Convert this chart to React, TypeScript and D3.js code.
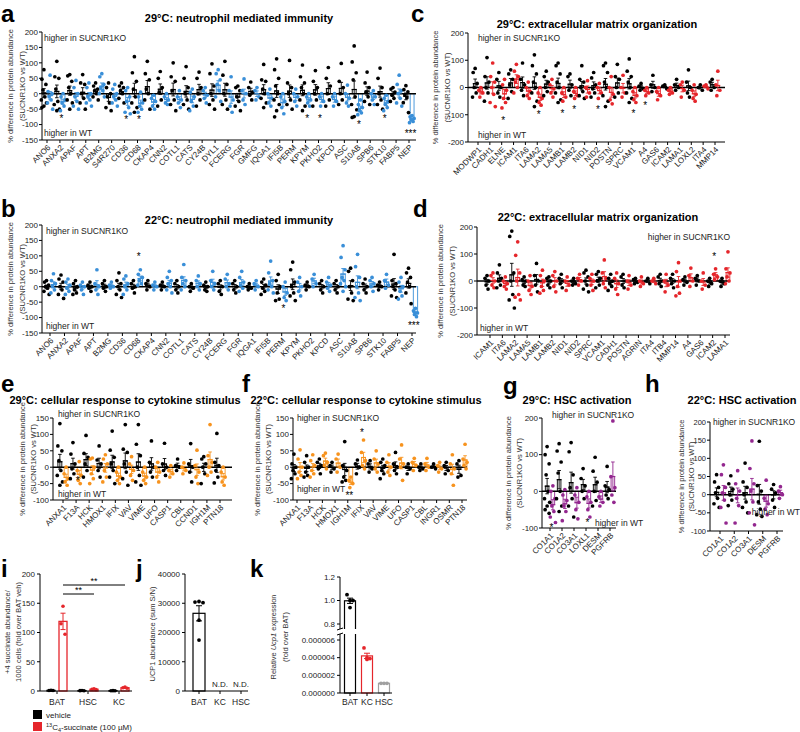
import React from "react";
import * as d3 from "d3";

const FONT = "'Liberation Sans', Arial, Helvetica, sans-serif";
const BLUE = "#3a8fd8";
const RED = "#e5262b";
const ORANGE = "#f7931e";
const PURPLE = "#93278f";

// ---------- Panel a: 29°C neutrophil mediated immunity ----------
const aCats = ["ANO6","ANXA2","APAF","APT","B2MG","S4R270","CD36","CD68","CKAP4","CNN2","COTL1","CATS","CY24B","DYL1","FCERG","FGR","GMFG","IQGA1","IFI5B","PERM","KPYM","PKHO2","KPCD","ASC","S10AB","SPB6","STK10","FABP5","NEP"];
const aBlack = [
  [78,47,30,12,-10,-20,-30,-40,-45],[105,55,50,15,-25,-35,-50,-55],[62,58,40,20,0,-20,-30,-50],[62,35,30,0,-15,-30,-50],
  [35,25,15,10,0,-10,-20],[35,20,0,-10,-30,-45,-55],[35,25,20,10,0,-15,-30],[120,68,40,15,-10,-30,-45,-60],
  [105,65,45,15,0,-20,-50],[72,50,20,5,-20,-40],[100,55,40,10,-20,-35,-55],[88,50,20,0,-20,-35,-50],
  [70,50,20,0,-20,-40],[97,65,25,0,-20,-35,-50],[105,60,30,0,-20,-35,-50],[25,20,10,-10,-25,-40,-55],
  [38,20,5,-5,-20],[95,45,40,15,0,-15,-30,-45],[113,78,50,25,0,-20,-35,-55,-75],[108,35,20,0,-20,-35,-50],
  [93,55,35,20,0,-20,-40,-55],[75,40,20,0,-20,-40],[85,50,25,0,-20,-40],[98,40,20,0,-20,-35],
  [155,103,68,45,-10,-35,-52,-74,-77],[70,35,20,5,-10,-25,-35],[83,50,20,0,-20,-35,-50],[20,15,5,-5,-15,-25],
  [26,13,6,-3,-13,-29,-61]
];
const aBlue = [
  [60,7,0,-10,-20,-30,-50],[0,-10,-20,-30,-40,-55],[43,20,0,-10,-25,-40,-50],[35,20,0,-10,-20,-30,-40],
  [65,55,30,20,10,0,-10],[30,15,0,-10,-20,-30,-40],[20,10,-10,-25,-45,-60,-65],[5,-10,-30,-40,-50,-60],
  [-5,-15,-25,-40,-50],[0,-10,-20,-30,-35],[10,-10,-20,-30,-45],[15,5,-10,-25,-40,-55],
  [20,10,-5,-15,-30],[78,65,45,30,10,-10,-25],[55,10,-20,-40,-60],[48,10,0,-20,-35],
  [20,10,-10,-20],[15,0,-15,-30,-40],[0,-10,-25,-45,-65],[15,0,-10,-25,-40],
  [0,-10,-20,-30,-40],[0,-10,-25,-40],[0,-10,-25,-40],[28,0,-15,-30,-40],
  [-20,-35,-45,-55,-62,-68],[10,0,-10,-20,-35],[-5,-15,-25,-35,-45,-55],[60,30,10,0,-15,-30,-40],
  [-71,-75,-80,-85,-90,-94]
];
const aStars: [string, number, string][] = [["ANXA2",-78,"*"],["CD36",-82,"*"],["CD68",-82,"*"],["KPYM",-78,"*"],["PKHO2",-78,"*"],["S10AB",-97,"*"],["STK10",-78,"*"],["NEP",-128,"***"]];

// ---------- Panel b: 22°C neutrophil mediated immunity ----------
const bCats = ["ANO6","ANXA2","APAF","APT","B2MG","CD36","CD68","CKAP4","CNN2","COTL1","CATS","CY24B","FCERG","FGR","IQGA1","IFI5B","PERM","KPYM","PKHO2","KPCD","ASC","S10AB","SPB6","STK10","FABP5","NEP"];
const bBlack = [
  [20,15,5,0,-5,-15,-25],[38,25,15,0,-10,-25,-38],[20,10,0,-10,-20,-25],[15,5,0,-5,-15],[20,10,0,-5,-15],
  [45,20,10,0,-10,-25,-35],[20,10,0,-5,-20],[20,10,0,-10],[15,5,0,-10],[20,10,0,-10,-20],[10,0,-5,-15],
  [15,5,0,-10,-15],[20,10,0,-15,-25],[20,10,0,-10,-20],[10,0,-5,-10],[25,15,5,-5,-15,-25],[40,20,0,-20,-40,-45],
  [80,55,15,0,-20,-30,-45],[15,5,0,-10],[20,10,0,-10,-20],[20,10,0,-10,-20],[60,50,20,0,-20,-40,-45],
  [25,10,0,-10,-20],[15,5,0,-10],[105,20,10,0,-10,-30,-35],[60,45,30,15,0,-20,-55]
];
const bBlue = [
  [42,20,10,0,-10,-20],[25,15,5,-5,-15,-25],[15,5,0,-10,-25],[55,10,0,-10,-25],[15,5,0,-5],
  [35,25,10,0,-10,-25],[55,40,30,20,10,5],[15,5,0,-10],[50,30,20,10,0,-10,-20],[72,30,20,10,0,-10],[35,20,10,0,-10],
  [50,20,10,0,-10],[40,25,10,0,-10],[50,30,15,5,-5,-15],[20,10,0,-10],[83,45,20,10,0,-10,-20],[15,0,-20,-35,-45],
  [30,15,0,-15,-30],[40,25,10,0],[30,15,5,-5,-15],[133,95,55,30,20,10,0,-15],[105,65,30,0,-20,-35,-45],
  [30,20,10,0,-15],[40,20,5,-5],[30,15,0,-15,-30,-40],[-70,-78,-85,-90,-97]
];
const bStars: [string, number, string][] = [["CD68",98,"*"],["PERM",-68,"*"],["NEP",-125,"***"]];

// ---------- Panel c: 29°C extracellular matrix organization ----------
const cCats = ["MODWP1","CADH1","ELNE","ICAM1","ITA6","LAMA2","LAMA5","LAMB1","LAMB2","NID1","NID2","POSTN","SPRC","VCAM1","A4","GAS6","ICAM2","LAMA1","LOXL2","ITA4","MMP14"];
const cBlack = [
  [70,55,15,0,-20,-35],[110,40,20,0,-20,-50],[55,30,0,-20,-35],[65,50,30,10,-15,-40],[90,30,10,-10,-30],
  [120,80,50,20,0,-20,-50,-70],[60,40,20,0,-15,-30],[90,80,50,20,0,-20,-45,-55],[50,40,10,-10,-30],
  [80,30,20,0,-15,-30,-40],[55,35,10,-5,-20,-35],[90,80,55,20,0,-30,-50,-70],[85,40,30,0,-20,-35],
  [105,60,40,20,0,-20,-40,-55],[15,5,-5,-10],[45,10,0,-15],[10,5,-5],[30,10,0,-10],[65,20,0,-20,-35],
  [10,0,-10],[30,20,0,-10]
];
const cRed = [
  [0,-10,-20,-35],[90,40,20,0,-25,-55,-70],[30,10,-10,-40,-55,-75],[85,60,40,20,0,-20],[20,0,-15,-30,-40],
  [0,-20,-40,-55,-65],[30,10,-5,-20,-35],[0,-20,-35,-50],[0,-15,-30,-40],
  [25,0,-20,-35],[15,0,-20,-40],[40,0,-25,-45,-60],[45,0,-20,-35],
  [0,-15,-30,-45,-55],[0,-10,-20,-30],[0,-15,-30,-45],[0,-10,-20,-25],[20,10,-10,-35],[10,-10,-25,-40,-50],
  [10,5,-5],[60,10,-10,-30]
];
const cStars: [string, number, string][] = [["ELNE",-118,"*"],["LAMA2",-98,"*"],["LAMB1",-92,"*"],["LAMB2",-80,"*"],["NID2",-80,"*"],["VCAM1",-92,"*"],["A4",-66,"*"]];

// ---------- Panel d: 22°C extracellular matrix organization ----------
const dCats = ["ICAM1","ITA6","LAMA2","LAMA5","LAMB1","LAMB2","NID1","NID2","SPRC","VCAM1","CADH1","POSTN","AGRIN","ITA4","ITB4","MMP14","A4","GAS6","ICAM2","LAMA1"];
const dBlack = [
  [20,10,0,-15,-30],[60,30,10,0,-15,-25],[185,165,30,0,-50,-70,-100],[15,5,0,-15,-20],[65,20,0,-15,-40],
  [15,10,0,-15,-25],[25,10,0,-10,-25],[10,0,-10,-15],[40,30,15,0,-15,-30,-40],[35,25,10,0,-15,-25],
  [25,10,0,-10,-20,-35],[25,15,0,-15,-25],[10,5,-5,-10],[10,0,-10],[25,15,0,-10,-20],[25,10,0,-10,-25],
  [15,5,-5,-15],[20,10,0,-15],[10,0,-10,-20],[10,0,-10,-20]
];
const dRed = [
  [30,20,0,-15,-25],[15,0,-10,-20,-30],[145,95,30,0,-50,-60,-70],[20,0,-20,-35,-50],[40,20,0,-20,-35,-45],
  [35,20,0,-20,-40],[15,0,-15,-35],[25,10,0,-15],[25,10,0,-15,-35],[78,30,10,-10,-25],
  [30,10,-10,-30,-50],[20,0,-15,-30],[15,0,-10,-20],[10,0,-10],[25,0,-15,-40],[68,35,0,-20,-45,-55],
  [48,20,0,-20],[30,0,-15,-30],[45,25,15,5],[108,45,30,15,0,-10]
];
const dStars: [string, number, string][] = [["ICAM2",92,"*"]];

// ---------- Panel e: 29°C cellular response to cytokine stimulus ----------
const eCats = ["ANXA1","F13A","HCK","HMOX1","IFIX","VAV","VIME","UFO","CASP1","CBL","CCND1","IGH1M","PTN18"];
const eBlack = [
  [133,65,50,20,-10,-25,-45,-55],[75,40,10,-5,-20,-35],[97,42,30,10,-10,-30],[65,22,10,-10,-30],
  [110,52,30,10,-10,-30,-50],[130,55,45,10,-15,-35,-55],[130,70,35,0,-25,-45,-55],[80,15,0,-15,-30],
  [73,10,0,-10,-25],[25,5,0,-10],[72,10,0,-15,-45],[32,25,10,0,-20,-50],[103,15,5,-10,-30,-48]
];
const eOrange = [
  [0,-20,-35,-45,-55],[17,-10,-25,-40,-50],[28,25,0,-20,-35,-50],[38,25,10,-10,-30,-45],
  [0,-15,-30,-40,-50],[32,10,-10,-25,-40],[0,-15,-30,-40,-50],[15,0,-15,-30,-45],
  [5,-10,-20,-30],[13,0,-10,-20],[52,5,-15,-30,-50],[130,35,15,0,-15,-25],[0,-15,-30,-45,-55]
];
const eStars: [string, number, string][] = [["F13A",-40,"*"]];

// ---------- Panel f: 22°C cellular response to cytokine stimulus ----------
const fCats = ["ANXA1","F13A","HCK","HMOX1","IGH1M","IFIX","VAV","VIME","UFO","CASP1","CBL","INGR1","OSMR","PTN18"];
const fBlack = [
  [40,10,0,-10,-20,-35],[35,15,0,-15,-25,-30],[25,15,5,-5,-20],[15,5,-5,-15],[78,5,-10,-30,-40,-45],
  [22,10,0,-20],[20,10,-5,-15],[25,15,5,-10,-20,-35],[45,10,0,-10,-20],[10,0,-5,-20],[10,0,-5,-10],
  [10,0,-5],[15,5,-10,-20],[20,10,-25,-30]
];
const fOrange = [
  [53,25,0,-15,-25,-35],[38,20,5,-10,-20,-30],[43,35,15,5,-5],[40,25,0,-15],[-30,-40,-50,-62],
  [83,45,20,5,-5],[50,25,10,-5,-15],[38,15,0,-15,-25],[68,25,10,0,-40],[27,15,5,-10],[27,10,0,-10],
  [15,5,-5,-15],[38,10,-5,-20,-55],[70,25,15,5,-5]
];
const fStars: [string, number, string][] = [["IFIX",106,"*"],["IGH1M",-84,"**"]];

// ---------- Panel g: 29°C HSC activation ----------
const gCats = ["CO1A1","CO1A2","CO3A1","LOXL1","DESM","PGFRB"];
const gBlack = [
  [122,100,75,45,0,-20,-30,-40,-50,-60],[130,110,80,50,0,-20,-40,-55],[133,108,45,10,-20,-40,-70],
  [62,35,15,0,-20],[93,55,25,0,-25,-40],[68,15,5,-10,-20]
];
const gPurple = [
  [15,0,-20,-40,-55,-70,-85],[5,-10,-25,-40,-55,-80],[10,-10,-30,-50,-75],
  [0,-15,-30,-50,-70],[0,-15,-30,-40],[192,40,10,-10,-30]
];
const gStars: [string, number, string][] = [["CO1A1",-97,"*"],["LOXL1",-84,"*"]];

// ---------- Panel h: 22°C HSC activation ----------
const hCats = ["CO1A1","CO1A2","CO3A1","DESM","PGFRB"];
const hBlack = [
  [55,35,20,5,-10,-25,-35],[52,30,15,0,-15,-30],[87,35,20,0,-20,-35,-50],[147,25,10,-20,-40,-55,-60],[28,15,5,-15,-35]
];
const hPurple = [
  [82,55,20,5,-15,-35,-78],[66,30,10,-10,-30,-78],[148,72,30,10,-20,-50,-83],[40,-10,-25,-40,-55],[22,10,0,-10]
];
const hStars: [string, number, string][] = [];

// ---------- Panel i ----------
const iGroups = ["BAT","HSC","KC"];
const iVehicle = [[1.2,0.9,0.8],[0.8,0.6,0.5],[0.6,0.5,0.4]];
const iSuccinate = [[145,115,97],[3.6,3.0,2.4],[6.6,5.6,4.6]];
const iTicks = [0,50,100,150,200];
const iSig: [string, string][] = [["BAT","HSC"],["BAT","KC"]];

// ---------- Panel j ----------
const jGroups = ["BAT","KC","HSC"];
const jBAT = [30400,30600,30200,24200,17400];
const jTicks = [0,10000,20000,30000,40000];

// ---------- Panel k ----------
const kGroups = ["BAT","KC","HSC"];
const kValues = [[1.05,1.0,1.0,0.94],[5.1e-6,4.0e-6,3.9e-6,3.8e-6],[1.1e-6,1.1e-6,1.1e-6]];
const kUpperTicks = [0.8,1.0,1.2];
const kLowerTicks = [0,2e-6,4e-6,6e-6];

const JIT = [0,-2,2,-1,1,-2.6,2.6];
const avg = (a: number[]) => d3.mean(a) as number;
const sem = (a: number[]) => (a.length > 1 ? (d3.deviation(a) as number) / Math.sqrt(a.length) : 0);

type Txt = { x: number; y: number; anchor?: string };
type Cfg = {
  letter: string; lx: number; ly: number; title: string; tx: number; ty: number;
  x0: number; x1: number; c0: number; c1: number; yTop: number; yBot: number;
  dom: [number, number]; ticks: number[]; cats: string[]; black: number[][]; col: number[][];
  color: string; stars: [string, number, string][]; hiKO: Txt; hiWT: Txt; ylx: [number, number];
  tickFs?: number;
};

function StripPanel({ p }: { p: Cfg }) {
  const y = d3.scaleLinear().domain(p.dom).range([p.yBot, p.yTop]);
  const x = d3.scalePoint<string>().domain(p.cats).range([p.c0, p.c1]);
  const step = x.step();
  const off = step * 0.24;
  const bw = Math.min(step * 0.3, 5);
  const y0 = y(0);
  const groups: { cx: number; vals: number[]; color: string }[] = [];
  p.cats.forEach((c, i) => {
    groups.push({ cx: (x(c) as number) - off, vals: p.black[i], color: "#000" });
    groups.push({ cx: (x(c) as number) + off, vals: p.col[i], color: p.color });
  });
  const ymid = (p.yTop + p.yBot) / 2;
  const tfs = p.tickFs || 8;
  return (
    <g fontFamily={FONT}>
      <text x={p.lx} y={p.ly} fontSize={24} fontWeight="bold">{p.letter}</text>
      <text x={p.tx} y={p.ty} fontSize={11} fontWeight="bold" textAnchor="middle">{p.title}</text>
      <text transform={`translate(${p.ylx[0]},${ymid}) rotate(-90)`} fontSize={7.5} textAnchor="middle" fill="#333">% difference in protein abundance</text>
      <text transform={`translate(${p.ylx[1]},${ymid}) rotate(-90)`} fontSize={7.5} textAnchor="middle" fill="#333">(SUCNR1KO vs WT)</text>
      {groups.map((g, k) => {
        const m = avg(g.vals);
        return <rect key={"b" + k} x={g.cx - bw / 2} y={Math.min(y0, y(m))} width={bw} height={Math.abs(y(m) - y0)} fill="#fff" stroke={g.color} strokeWidth={0.9} />;
      })}
      <line x1={p.x0} x2={p.x1} y1={y0} y2={y0} stroke="#000" strokeWidth={1.5} />
      {groups.map((g, k) => (
        <g key={"d" + k}>
          {g.vals.map((v, j) => <circle key={j} cx={g.cx + JIT[j % JIT.length]} cy={y(v)} r={1.85} fill={g.color} />)}
        </g>
      ))}
      {groups.map((g, k) => {
        const m = avg(g.vals), e = sem(g.vals);
        return (
          <g key={"e" + k} stroke={g.color} strokeWidth={0.9}>
            <line x1={g.cx} x2={g.cx} y1={y(m - e)} y2={y(m + e)} />
            <line x1={g.cx - 1.8} x2={g.cx + 1.8} y1={y(m - e)} y2={y(m - e)} />
            <line x1={g.cx - 1.8} x2={g.cx + 1.8} y1={y(m + e)} y2={y(m + e)} />
            <line x1={g.cx - bw / 2 - 0.6} x2={g.cx + bw / 2 + 0.6} y1={y(m)} y2={y(m)} strokeWidth={1.2} />
          </g>
        );
      })}
      {p.stars.map(([c, v, t], k) => (
        <text key={"s" + k} x={(x(c) as number) + off * 0.5} y={y(v) + 4} fontSize={10} textAnchor="middle">{t}</text>
      ))}
      <line x1={p.x0} x2={p.x0} y1={p.yTop} y2={p.yBot} stroke="#000" strokeWidth={1} />
      <line x1={p.x0} x2={p.x1} y1={p.yBot} y2={p.yBot} stroke="#000" strokeWidth={1} />
      {p.ticks.map((t) => (
        <g key={"t" + t}>
          <line x1={p.x0 - 3} x2={p.x0} y1={y(t)} y2={y(t)} stroke="#000" />
          <text x={p.x0 - 4} y={y(t)} dy="0.35em" fontSize={tfs} textAnchor="end" fill="#222">{t}</text>
        </g>
      ))}
      {p.cats.map((c) => (
        <g key={"c" + c}>
          <line x1={x(c)} x2={x(c)} y1={p.yBot} y2={p.yBot + 3} stroke="#000" />
          <text transform={`translate(${(x(c) as number) + 2},${p.yBot + 6}) rotate(-45)`} fontSize={8} textAnchor="end" dy="0.35em" fill="#222">{c}</text>
        </g>
      ))}
      <text x={p.hiKO.x} y={p.hiKO.y} fontSize={8.5} textAnchor={p.hiKO.anchor || "start"} fill="#222">higher in SUCNR1KO</text>
      <text x={p.hiWT.x} y={p.hiWT.y} fontSize={8.5} textAnchor={p.hiWT.anchor || "start"} fill="#222">higher in WT</text>
    </g>
  );
}

const tr = (a: number, b: number, s: number) => d3.range(a, b + 1, s);

const panels: Cfg[] = [
  { letter: "a", lx: 1, ly: 22, title: "29°C: neutrophil mediated immunity", tx: 239, ty: 22, x0: 42, x1: 416, c0: 47, c1: 409, yTop: 32, yBot: 140, dom: [-150, 200], ticks: tr(-150, 200, 50), cats: aCats, black: aBlack, col: aBlue, color: BLUE, stars: aStars, hiKO: { x: 44, y: 41 }, hiWT: { x: 44, y: 136 }, ylx: [13, 25] },
  { letter: "b", lx: 1, ly: 217, title: "22°C: neutrophil mediated immunity", tx: 239, ty: 224, x0: 42, x1: 416, c0: 50, c1: 412, yTop: 225, yBot: 333, dom: [-150, 200], ticks: tr(-150, 200, 50), cats: bCats, black: bBlack, col: bBlue, color: BLUE, stars: bStars, hiKO: { x: 46, y: 234 }, hiWT: { x: 46, y: 329 }, ylx: [13, 25] },
  { letter: "c", lx: 411, ly: 22, title: "29°C: extracellular matrix organization", tx: 597, ty: 28, x0: 468, x1: 725, c0: 478, c1: 715, yTop: 33, yBot: 142, dom: [-200, 200], ticks: tr(-200, 200, 100), cats: cCats, black: cBlack, col: cRed, color: RED, stars: cStars, hiKO: { x: 478, y: 41 }, hiWT: { x: 478, y: 138 }, ylx: [438, 450] },
  { letter: "d", lx: 413, ly: 217, title: "22°C: extracellular matrix organization", tx: 598, ty: 221, x0: 477, x1: 730, c0: 490, c1: 725, yTop: 227, yBot: 335, dom: [-200, 200], ticks: tr(-200, 200, 100), cats: dCats, black: dBlack, col: dRed, color: RED, stars: dStars, hiKO: { x: 730, y: 240, anchor: "end" }, hiWT: { x: 480, y: 331 }, ylx: [443, 455] },
  { letter: "e", lx: 1, ly: 392, title: "29°C: cellular response to cytokine stimulus", tx: 125, ty: 404, x0: 53, x1: 232, c0: 63, c1: 220, yTop: 418, yBot: 500, dom: [-100, 150], ticks: tr(-100, 150, 50), cats: eCats, black: eBlack, col: eOrange, color: ORANGE, stars: eStars, hiKO: { x: 58, y: 417 }, hiWT: { x: 58, y: 497 }, ylx: [25, 36] },
  { letter: "f", lx: 242, ly: 392, title: "22°C: cellular response to cytokine stimulus", tx: 366, ty: 404, x0: 293, x1: 467, c0: 297, c1: 462, yTop: 418, yBot: 500, dom: [-100, 150], ticks: tr(-100, 150, 50), cats: fCats, black: fBlack, col: fOrange, color: ORANGE, stars: fStars, hiKO: { x: 297, y: 421 }, hiWT: { x: 297, y: 492 }, ylx: [260, 271] },
  { letter: "g", lx: 503, ly: 394, title: "29°C: HSC activation", tx: 577, ty: 404, x0: 542, x1: 616, c0: 550, c1: 610, yTop: 418, yBot: 528, dom: [-100, 200], ticks: tr(-100, 200, 100), cats: gCats, black: gBlack, col: gPurple, color: PURPLE, stars: gStars, hiKO: { x: 552, y: 418 }, hiWT: { x: 595, y: 526 }, ylx: [511, 522] },
  { letter: "h", lx: 645, ly: 392, title: "22°C: HSC activation", tx: 742, ty: 404, x0: 710, x1: 783, c0: 720, c1: 777, yTop: 422, yBot: 531, dom: [-100, 200], ticks: tr(-100, 200, 50), cats: hCats, black: hBlack, col: hPurple, color: PURPLE, stars: hStars, hiKO: { x: 713, y: 425 }, hiWT: { x: 800, y: 515, anchor: "end" }, ylx: [684, 694], tickFs: 7.5 },
];

function PanelI() {
  const y = d3.scaleLinear().domain([0, 200]).range([691, 574]);
  const x = d3.scalePoint<string>().domain(iGroups).range([57, 119]);
  const bw = 8;
  const x0 = 40, x1 = 132, yB = 691;
  const sigY = [594, 585];
  return (
    <g fontFamily={FONT}>
      <text x={1} y={577} fontSize={24} fontWeight="bold">i</text>
      <text transform="translate(10,632) rotate(-90)" fontSize={7.5} textAnchor="middle" fill="#333">+4 succinate abundance/</text>
      <text transform="translate(21,632) rotate(-90)" fontSize={7.5} textAnchor="middle" fill="#333">1000 cells (fold over BAT veh)</text>
      {iGroups.map((g, i) => {
        const cx = x(g) as number;
        const sets: [number[], string, number][] = [[iVehicle[i], "#000", cx - 6], [iSuccinate[i], RED, cx + 6]];
        return (
          <g key={g}>
            {sets.map(([vals, col, bx], k) => {
              const m = avg(vals), e = sem(vals);
              return (
                <g key={k}>
                  <rect x={bx - bw / 2} y={y(m)} width={bw} height={yB - y(m)} fill={k === 0 ? "#000" : "#fff"} stroke={col} strokeWidth={1.3} />
                  {vals.map((v, j) => <circle key={j} cx={bx + JIT[j % 3]} cy={y(v)} r={1.8} fill={col} />)}
                  <g stroke={col} strokeWidth={1}>
                    <line x1={bx} x2={bx} y1={y(m - e)} y2={y(m + e)} />
                    <line x1={bx - 2.5} x2={bx + 2.5} y1={y(m + e)} y2={y(m + e)} />
                    <line x1={bx - 2.5} x2={bx + 2.5} y1={y(m - e)} y2={y(m - e)} />
                  </g>
                </g>
              );
            })}
            <line x1={cx} x2={cx} y1={yB} y2={yB + 3} stroke="#000" />
            <text x={cx} y={705} fontSize={8.5} textAnchor="middle" fill="#222">{g}</text>
          </g>
        );
      })}
      {iSig.map(([a, b], k) => {
        const xa = (x(a) as number) + 6, xb = (x(b) as number) + 6;
        return (
          <g key={"sig" + k}>
            <line x1={xa} x2={xb} y1={sigY[k]} y2={sigY[k]} stroke="#000" strokeWidth={1} />
            <text x={(xa + xb) / 2} y={sigY[k] - 1} fontSize={9} textAnchor="middle">**</text>
          </g>
        );
      })}
      <line x1={x0} x2={x0} y1={574} y2={yB} stroke="#000" />
      <line x1={x0} x2={x1} y1={yB} y2={yB} stroke="#000" />
      {iTicks.map((t) => (
        <g key={t}>
          <line x1={x0 - 3} x2={x0} y1={y(t)} y2={y(t)} stroke="#000" />
          <text x={x0 - 5} y={y(t)} dy="0.35em" fontSize={8} textAnchor="end" fill="#222">{t}</text>
        </g>
      ))}
      <rect x={33} y={710} width={9} height={9} fill="#000" />
      <text x={46} y={718} fontSize={8} fill="#222">vehicle</text>
      <rect x={33} y={722} width={9} height={9} fill={RED} />
      <text x={46} y={730} fontSize={8} fill="#222"><tspan fontSize={5.5} dy={-3}>13</tspan><tspan dy={3}>C</tspan><tspan fontSize={5.5} dy={2}>4</tspan><tspan dy={-2}>-succinate (100 µM)</tspan></text>
    </g>
  );
}

function PanelJ() {
  const y = d3.scaleLinear().domain([0, 40000]).range([691, 574]);
  const x = d3.scalePoint<string>().domain(jGroups).range([199, 241]);
  const x0 = 185, x1 = 248, yB = 691;
  const cx = x("BAT") as number;
  const m = avg(jBAT), e = sem(jBAT);
  const jx = [-4, 0, 4, 0, 0];
  return (
    <g fontFamily={FONT}>
      <text x={136} y={577} fontSize={24} fontWeight="bold">j</text>
      <text transform="translate(155,634) rotate(-90)" fontSize={7.5} textAnchor="middle" fill="#333">UCP1 abundance (sum S/N)</text>
      <rect x={cx - 6} y={y(m)} width={12} height={yB - y(m)} fill="#fff" stroke="#000" strokeWidth={1.2} />
      {jBAT.map((v, j) => <circle key={j} cx={cx + jx[j]} cy={y(v)} r={1.9} fill="#000" />)}
      <g stroke="#000">
        <line x1={cx} x2={cx} y1={y(m - e)} y2={y(m + e)} />
        <line x1={cx - 3} x2={cx + 3} y1={y(m + e)} y2={y(m + e)} />
        <line x1={cx - 3} x2={cx + 3} y1={y(m - e)} y2={y(m - e)} />
      </g>
      {jGroups.slice(1).map((g) => (
        <text key={g} x={x(g) as number} y={687} fontSize={8} textAnchor="middle" fill="#222">N.D.</text>
      ))}
      <line x1={x0} x2={x0} y1={574} y2={yB} stroke="#000" />
      <line x1={x0} x2={x1} y1={yB} y2={yB} stroke="#000" />
      {jTicks.map((t) => (
        <g key={t}>
          <line x1={x0 - 3} x2={x0} y1={y(t)} y2={y(t)} stroke="#000" />
          <text x={x0 - 5} y={y(t)} dy="0.35em" fontSize={8} textAnchor="end" fill="#222">{t}</text>
        </g>
      ))}
      {jGroups.map((g) => (
        <g key={"l" + g}>
          <line x1={x(g)} x2={x(g)} y1={yB} y2={yB + 3} stroke="#000" />
          <text x={x(g) as number} y={705} fontSize={8.5} textAnchor="middle" fill="#222">{g}</text>
        </g>
      ))}
    </g>
  );
}

function PanelK() {
  const yU = d3.scaleLinear().domain([0.8, 1.2]).range([624, 577]);
  const yL = d3.scaleLinear().domain([0, 6e-6]).range([693, 640]);
  const yk = (v: number) => (v > 0.5 ? yU(v) : yL(v));
  const x = d3.scalePoint<string>().domain(kGroups).range([350, 384]);
  const cols = ["#000", RED, "#a0a0a0"];
  const x0 = 340, x1 = 392, yB = 693;
  const f6 = d3.format(".6f");
  return (
    <g fontFamily={FONT}>
      <text x={250} y={577} fontSize={24} fontWeight="bold">k</text>
      <text transform="translate(276,637) rotate(-90)" fontSize={7.5} textAnchor="middle" fill="#333">Relative <tspan fontStyle="italic">Ucp1</tspan> expression</text>
      <text transform="translate(288,637) rotate(-90)" fontSize={7.5} textAnchor="middle" fill="#333">(fold over BAT)</text>
      {kGroups.map((g, i) => {
        const cx = x(g) as number;
        const vals = kValues[i];
        const m = avg(vals), e = sem(vals);
        return (
          <g key={g}>
            <rect x={cx - 5.5} y={yk(m)} width={11} height={yB - yk(m)} fill="#fff" stroke={cols[i]} strokeWidth={1.2} />
            {vals.map((v, j) => <circle key={j} cx={cx + [-3, 0, 3, 0][j % 4]} cy={yk(v)} r={1.9} fill={cols[i]} />)}
            <g stroke={cols[i]}>
              <line x1={cx} x2={cx} y1={yk(m - e)} y2={yk(m + e)} />
              <line x1={cx - 3} x2={cx + 3} y1={yk(m + e)} y2={yk(m + e)} />
              <line x1={cx - 3} x2={cx + 3} y1={yk(m - e)} y2={yk(m - e)} />
            </g>
            <line x1={cx} x2={cx} y1={yB} y2={yB + 3} stroke="#000" />
            <text x={cx} y={705} fontSize={8.5} textAnchor="middle" fill="#222">{g}</text>
          </g>
        );
      })}
      <rect x={330} y={629} width={30} height={5} fill="#fff" />
      <line x1={x0} x2={x0} y1={577} y2={629} stroke="#000" />
      <line x1={x0} x2={x0} y1={634} y2={yB} stroke="#000" />
      <line x1={x0 - 3} x2={x0 + 3} y1={630} y2={628} stroke="#000" />
      <line x1={x0 - 3} x2={x0 + 3} y1={635} y2={633} stroke="#000" />
      <line x1={x0} x2={x1} y1={yB} y2={yB} stroke="#000" />
      {kUpperTicks.map((t) => (
        <g key={"u" + t}>
          <line x1={x0 - 3} x2={x0} y1={yU(t)} y2={yU(t)} stroke="#000" />
          <text x={x0 - 5} y={yU(t)} dy="0.35em" fontSize={8} textAnchor="end" fill="#222">{t.toFixed(1)}</text>
        </g>
      ))}
      {kLowerTicks.map((t) => (
        <g key={"l" + t}>
          <line x1={x0 - 3} x2={x0} y1={yL(t)} y2={yL(t)} stroke="#000" />
          <text x={x0 - 5} y={yL(t)} dy="0.35em" fontSize={8} textAnchor="end" fill="#222">{f6(t)}</text>
        </g>
      ))}
    </g>
  );
}

export default function App() {
  return (
    <svg width={800} height={732} viewBox="0 0 800 732" style={{ position: "absolute", left: 0, top: 0, background: "#fff" }}>
      <rect width={800} height={732} fill="#fff" />
      {panels.map((p) => <StripPanel key={p.letter} p={p} />)}
      <PanelI />
      <PanelJ />
      <PanelK />
    </svg>
  );
}
